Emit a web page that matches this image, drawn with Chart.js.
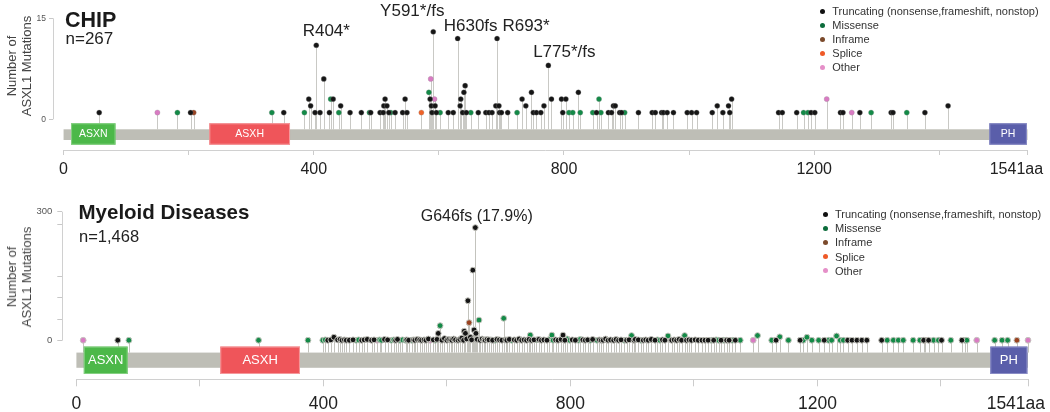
<!DOCTYPE html>
<html><head><meta charset="utf-8">
<script src="https://cdn.jsdelivr.net/npm/chart.js@4.4.1/dist/chart.umd.min.js"></script>
<style>
html,body{margin:0;padding:0;background:#fff;}
body{width:1050px;height:412px;position:relative;overflow:hidden;font-family:'Liberation Sans',Arial,Helvetica,sans-serif;color:#222;}
.cw{position:absolute;left:0;width:1050px;}
.ttl{position:absolute;font-weight:bold;line-height:1;white-space:nowrap;color:#1a1a1a;}
.sub{position:absolute;line-height:1;white-space:nowrap;color:#222;}
.ytl{position:absolute;transform:translate(-50%,-50%) rotate(-90deg);text-align:center;font-size:13px;line-height:15px;color:#444;white-space:nowrap;}
.leg{position:absolute;font-size:11px;color:#333;}
.leg div{position:relative;line-height:14px;white-space:nowrap;}
.leg span.d{position:absolute;width:5px;height:5px;border-radius:50%;left:-12px;top:4.5px;}
</style></head>
<body>
<div class="cw" style="top:0;height:190px"><canvas id="c1" width="1050" height="190"></canvas></div>
<div class="cw" style="top:190px;height:222px"><canvas id="c2" width="1050" height="222"></canvas></div>
<div class="ttl" style="left:65px;top:10px;font-size:21.5px">CHIP</div>
<div class="sub" style="left:65.5px;top:30px;font-size:17px">n=267</div>
<div class="ttl" style="left:78.5px;top:202px;font-size:20.5px">Myeloid Diseases</div>
<div class="sub" style="left:79px;top:227.7px;font-size:16.5px">n=1,468</div>
<div class="ytl" style="left:19px;top:66px">Number of<br>ASXL1 Mutations</div>
<div class="ytl" style="left:19px;top:277px">Number of<br>ASXL1 Mutations</div>
<div class="leg" id="leg1" style="left:832.3px;top:4px"></div>
<div class="leg" id="leg2" style="left:835px;top:207px"></div>
<script>
// ---------------- DATA ----------------
const typeKeys = ['T','M','I','S','O'];
const typeNames = ['Truncating (nonsense,frameshift, nonstop)','Missense','Inframe','Splice','Other'];
const proteinLength = 1541;
const domainNames = ['ASXN','ASXH','PH'];
const domainStart = [12, 233, 1480];
const domainEnd = [83, 362, 1540];
const xTickValues = [0,200,400,600,800,1000,1200,1400,1541];
const xTickLabels = ['0','','400','','800','','1200','','1541aa'];
const chipYTicks = [0,15];
const myeloidYTicks = [0,50,100,150,270,300];

// CHIP (n=267): protein position, number of mutations, mutation class
const chipPos = [
  57,150,182,203,208,333,352,385,392,395,
  402,404,410,416,425,427,431,440,443,458,
  476,489,491,506,511,512,514,517,520,523,
  530,542,546,549,572,584,586,587,588,589,
  591,593,594,596,602,615,623,630,634,635,
  638,640,642,644,651,663,675,680,685,691,
  693,696,697,700,710,725,733,739,748,751,
  756,763,768,775,780,796,798,803,808,814,
  823,826,846,852,856,859,871,876,879,882,
  889,892,897,919,941,946,956,959,965,975,
  997,1004,1012,1037,1045,1054,1063,1065,1068,1143,
  1149,1172,1183,1190,1195,1201,1220,1242,1246,1260,
  1273,1291,1323,1326,1348,1377,1414];
const chipCount = [
  1,1,1,1,1,1,1,1,3,2,
  1,11,1,6,1,3,3,1,2,1,
  1,1,1,1,1,2,3,2,1,1,
  1,1,3,1,1,4,3,6,2,1,
  13,3,2,1,1,1,1,12,2,3,
  1,4,5,1,1,1,1,1,1,2,
  12,2,1,1,1,1,3,2,4,1,
  1,1,2,8,3,3,1,3,1,1,
  4,1,1,1,3,1,1,1,2,2,
  1,1,1,1,1,1,1,1,1,1,
  1,1,1,1,2,1,2,1,3,1,
  1,1,1,1,1,1,3,1,1,1,
  1,1,1,1,1,1,2];
const chipType = [
  'T','O','M','T','I','M','T','M','T','T',
  'T','T','T','T','T','M','T','M','T','T',
  'T','M','T','T','T','T','T','T','T','M',
  'T','T','T','T','S','M','T','O','T','T',
  'T','O','T','T','M','T','T','T','T','T',
  'T','T','T','T','M','T','T','T','T','T',
  'T','T','T','T','T','M','T','T','T','T',
  'T','T','T','T','T','T','T','T','M','M',
  'T','M','M','T','M','M','T','T','T','T',
  'T','T','M','T','T','T','T','T','T','T',
  'T','T','T','T','T','T','T','T','T','T',
  'T','T','M','M','T','T','O','T','T','O',
  'T','M','T','T','M','T','T'];
const chipLabelPos = [404,591,630,693,775];
const chipLabelText = ['R404*','Y591*/fs','H630fs','R693*','L775*/fs'];

// Myeloid diseases (n=1,468)
const myeloidPos = [
  11,67,85,295,375,399,403,407,412,417,
  423,427,430,434,437,442,448,453,457,462,
  466,471,478,482,487,491,494,499,504,510,
  514,517,520,524,528,533,535,538,543,546,
  548,552,556,559,563,566,570,573,578,581,
  584,586,589,592,596,600,603,606,608,611,
  614,618,621,624,627,628,630,632,634,636,
  638,640,642,644,646,647,649,652,654,657,
  660,662,665,668,671,674,678,681,685,689,
  692,695,697,701,705,709,713,717,721,725,
  729,733,735,737,741,745,749,753,757,762,
  766,770,772,776,780,785,788,791,795,799,
  803,808,813,816,820,824,828,832,836,843,
  847,850,853,857,861,865,870,874,878,882,
  887,891,895,899,903,905,910,914,918,922,
  926,931,937,941,945,949,953,958,964,968,
  972,976,980,985,988,992,996,1002,1007,1013,
  1018,1023,1028,1032,1036,1040,1044,1048,1053,1057,
  1062,1067,1075,1096,1103,1126,1133,1139,1153,1172,
  1177,1183,1191,1202,1211,1218,1223,1231,1237,1242,
  1249,1256,1264,1272,1280,1304,1313,1323,1331,1339,
  1355,1366,1372,1374,1380,1388,1396,1401,1416,1434,
  1439,1442,1458,1487,1499,1508,1523,1541];
const myeloidCount = [
  1,1,1,1,1,1,2,1,2,8,
  2,3,1,2,1,1,2,1,2,1,
  2,3,1,2,1,2,1,3,2,1,
  2,1,3,1,2,1,2,1,1,2,
  1,3,2,1,2,1,4,1,2,1,
  3,17,35,1,5,1,3,2,1,4,
  2,1,3,6,1,22,17,4,93,42,
  8,2,164,25,263,17,3,48,1,4,
  2,1,3,2,2,1,1,3,2,1,
  52,2,1,3,1,2,1,4,1,2,
  1,3,13,1,2,2,3,1,2,1,
  3,13,1,2,1,3,13,1,4,1,
  2,1,1,3,2,1,2,1,3,1,
  2,1,1,4,1,2,1,3,1,2,
  1,1,2,12,1,3,2,1,1,2,
  1,3,1,2,1,2,1,11,1,2,
  1,3,1,12,1,2,1,2,1,1,
  1,1,1,1,2,1,1,1,1,1,
  1,1,1,1,12,1,1,9,1,1,
  1,8,1,1,1,1,1,11,1,1,
  1,1,1,1,1,1,1,1,1,1,
  1,1,1,1,1,1,1,1,1,1,
  1,1,1,1,1,1,1,1];
const myeloidType = [
  'O','T','M','M','M','M','M','T','T','T',
  'T','T','T','T','T','T','T','M','M','T',
  'T','T','T','T','O','M','M','T','T','M',
  'M','T','T','M','M','M','T','T','M','T',
  'T','T','T','T','T','T','T','O','T','M',
  'T','T','M','T','T','T','T','T','T','T',
  'T','T','T','T','T','T','T','T','T','I',
  'T','T','T','T','T','T','T','M','T','T',
  'T','T','T','T','M','T','M','T','T','T',
  'M','T','T','T','M','T','T','T','T','T',
  'T','T','M','T','T','M','T','T','T','T',
  'M','M','M','T','T','T','T','T','M','M',
  'T','T','M','M','T','T','T','M','T','M',
  'T','T','T','T','T','T','T','T','T','T',
  'M','T','T','M','T','T','T','M','T','T',
  'T','T','T','M','M','T','T','M','T','T',
  'T','T','T','M','T','T','T','T','T','T',
  'T','T','M','T','M','M','T','M','T','T',
  'M','T','M','O','M','M','T','M','M','T',
  'M','M','M','M','T','M','M','M','M','M',
  'T','T','T','T','T','T','M','M','M','M',
  'M','M','T','I','T','M','M','T','M','T',
  'M','M','O','M','M','M','I','O'];
const myeloidLabelPos = [646];
const myeloidLabelText = ['G646fs (17.9%)'];

// ---------------- STYLE ----------------
const FONT = "'Liberation Sans', Arial, Helvetica, sans-serif";
const typeColors = {T:'#151515', M:'#138a47', I:'#9a4220', S:'#ee6228', O:'#d97bc3'};
const legendColors = {T:'#111111', M:'#0c6c3b', I:'#7b4a2b', S:'#ef5a28', O:'#e58fc8'};
const domainColors = ['#4cb849','#ef555a','#5a5eaa'];
const domainEdges = ['#86d083','#f59a9c','#8a8dc6'];
const backboneColor = '#bebeb6';
const axisLineColor = '#d0d0d0';

const panels = [
  {canvas:'c1', legend:'leg1', legendRow:14, pos:chipPos, count:chipCount, type:chipType,
   yTicks:chipYTicks, yMin:-4.56, yMax:15, xMin:-16.9,
   labelPos:chipLabelPos, labelText:chipLabelText, labelDx:[10,-21,13,29,16], labelDy:[9,16,7,7,8], annoFont:17,
   padTop:18.3, padRight:22.5, yWidth:53, xHeight:40,
   bbOff:10, bbH:10.7, domOff:4, domH:21.4, domFont:10.5,
   dotR:2.6, dotBorder:0.5, dotBorderColor:'rgba(150,150,150,0.6)', stem:'#c9c9c5',
   yFont:8.5, yTickLen:4, yTickPad:3, xTickLen:5, xTickPad:5, xFont:16, lastPad:5},
  {canvas:'c2', legend:'leg2', legendRow:14.2, pos:myeloidPos, count:myeloidCount, type:myeloidType,
   yTicks:myeloidYTicks, yMin:-89.8, yMax:300, xMin:-23.8,
   labelPos:myeloidLabelPos, labelText:myeloidLabelText, labelDx:[1.4], labelDy:[7], annoFont:16,
   padTop:21.7, padRight:22, yWidth:61.7, xHeight:32.7,
   bbOff:11.9, bbH:15.2, domOff:5.9, domH:27.4, domFont:13,
   dotR:2.9, dotBorder:1, dotBorderColor:'#c4c4bd', stem:'#c3c3bd',
   yFont:9.5, yTickLen:4.4, yTickPad:5, xTickLen:7, xTickPad:7, xFont:17.5, lastPad:5}
];

Chart.defaults.font.family = FONT;

function makePlugin(p){
  return {
    id:'lollipop',
    beforeDatasetsDraw(chart){
      const {ctx, chartArea, scales:{x, y}} = chart;
      const zero = y.getPixelForValue(0);
      const bbTop = zero + p.bbOff;
      ctx.save();
      // axis lines
      ctx.strokeStyle = axisLineColor; ctx.lineWidth = 1;
      ctx.beginPath();
      ctx.moveTo(x.getPixelForValue(0), Math.round(chartArea.bottom) + 0.5);
      ctx.lineTo(x.getPixelForValue(proteinLength), Math.round(chartArea.bottom) + 0.5);
      ctx.stroke();
      const yl = Math.round(chartArea.left) + 0.5;
      ctx.beginPath();
      ctx.moveTo(yl, y.getPixelForValue(p.yTicks[p.yTicks.length - 1]));
      ctx.lineTo(yl, zero);
      ctx.stroke();
      // stems
      ctx.strokeStyle = p.stem; ctx.lineWidth = 1;
      p.pos.forEach((v, i) => {
        const px = Math.round(x.getPixelForValue(v)) + 0.5;
        ctx.beginPath(); ctx.moveTo(px, bbTop); ctx.lineTo(px, y.getPixelForValue(p.count[i])); ctx.stroke();
      });
      // backbone
      const x0 = x.getPixelForValue(0), x1 = x.getPixelForValue(proteinLength);
      ctx.fillStyle = backboneColor;
      ctx.fillRect(x0, bbTop, x1 - x0, p.bbH);
      // domains
      domainNames.forEach((n, i) => {
        const a = x.getPixelForValue(domainStart[i]), b = x.getPixelForValue(domainEnd[i]);
        const t = zero + p.domOff;
        ctx.fillStyle = domainColors[i];
        ctx.fillRect(a, t, b - a, p.domH);
        ctx.strokeStyle = domainEdges[i]; ctx.lineWidth = 1;
        ctx.strokeRect(a + 0.5, t + 0.5, b - a - 1, p.domH - 1);
        ctx.fillStyle = '#fff';
        ctx.font = p.domFont + 'px ' + FONT;
        ctx.textAlign = 'center'; ctx.textBaseline = 'middle';
        ctx.fillText(n, (a + b) / 2, t + p.domH / 2 + 0.5);
      });
      ctx.restore();
    },
    afterDatasetsDraw(chart){
      const {ctx, scales:{x, y}} = chart;
      ctx.save();
      ctx.fillStyle = '#222';
      ctx.font = p.annoFont + 'px ' + FONT;
      ctx.textAlign = 'center'; ctx.textBaseline = 'alphabetic';
      p.labelPos.forEach((v, i) => {
        const c = p.count[p.pos.indexOf(v)];
        ctx.fillText(p.labelText[i], x.getPixelForValue(v) + p.labelDx[i], y.getPixelForValue(c) - p.labelDy[i]);
      });
      ctx.restore();
    }
  };
}

panels.forEach(p => {
  const datasets = typeKeys.map((k, ti) => ({
    label: typeNames[ti],
    data: p.pos.map((v, i) => ({x: v, y: p.count[i], t: p.type[i]})).filter(d => d.t === k),
    backgroundColor: typeColors[k],
    borderColor: p.dotBorderColor,
    borderWidth: p.dotBorder,
    pointRadius: p.dotR,
    pointHoverRadius: p.dotR,
    clip: false
  }));
  new Chart(document.getElementById(p.canvas), {
    type: 'scatter',
    data: {datasets},
    options: {
      responsive: false, animation: false, events: [],
      layout: {padding: {left: 0, right: p.padRight, top: p.padTop, bottom: 0}},
      plugins: {legend: {display: false}, tooltip: {enabled: false}},
      scales: {
        x: {
          type: 'linear', min: p.xMin, max: proteinLength,
          afterBuildTicks(s){ s.ticks = xTickValues.map(v => ({value: v})); },
          afterFit(s){ s.height = p.xHeight; s.paddingLeft = 0; s.paddingRight = 0; },
          border: {display: false},
          grid: {drawOnChartArea: false, drawTicks: true, tickLength: p.xTickLen, color: '#cccccc', lineWidth: 1},
          ticks: {autoSkip: false, maxRotation: 0, minRotation: 0, padding: p.xTickPad, color: '#222',
                  font: {size: p.xFont},
                  callback: (v, i) => (i === xTickLabels.length - 1) ? xTickLabels[i] + '\u00a0'.repeat(p.lastPad) : xTickLabels[i]}
        },
        y: {
          type: 'linear', min: p.yMin, max: p.yMax,
          afterBuildTicks(s){ s.ticks = p.yTicks.map(v => ({value: v})); },
          afterFit(s){ s.width = p.yWidth; s.paddingTop = 0; s.paddingBottom = 0; },
          border: {display: false},
          grid: {drawOnChartArea: false, drawTicks: true, tickLength: p.yTickLen, color: '#c8c8c8', lineWidth: 1},
          ticks: {padding: p.yTickPad, color: '#555', font: {size: p.yFont},
                  callback: v => (v === 0 || v === p.yMax) ? String(v) : ''}
        }
      }
    },
    plugins: [makePlugin(p)]
  });
  // legend
  const leg = document.getElementById(p.legend);
  typeKeys.forEach((k, i) => {
    const row = document.createElement('div');
    row.style.height = p.legendRow + 'px';
    const dot = document.createElement('span');
    dot.className = 'd'; dot.style.background = legendColors[k];
    row.appendChild(dot);
    row.appendChild(document.createTextNode(typeNames[i]));
    leg.appendChild(row);
  });
});
</script>
</body></html>
